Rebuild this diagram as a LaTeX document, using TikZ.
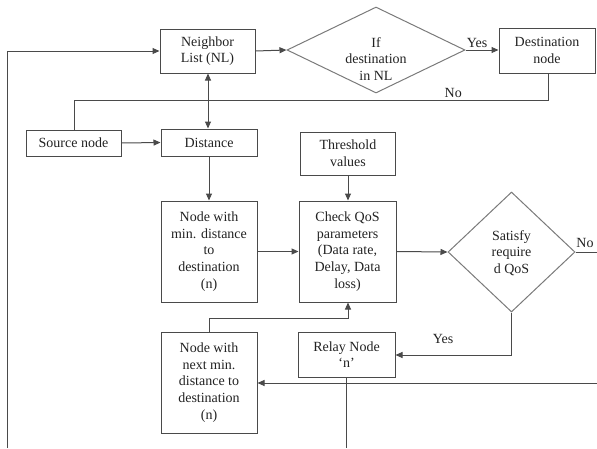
\documentclass[tikz,border=0pt]{standalone}
\usepackage{fontspec}
\setmainfont{Liberation Serif}
\usetikzlibrary{shapes.geometric,arrows.meta}
\definecolor{ln}{HTML}{4A4A4A}
\definecolor{dl}{HTML}{7A7A7A}
\definecolor{tx}{HTML}{222222}
\begin{document}
\begin{tikzpicture}[x=1pt,y=-1pt,
  every node/.style={font=\rmfamily\fontsize{14}{16.7}\selectfont,text=tx},
  box/.style={draw=ln,line width=1pt,rectangle,inner sep=0pt,align=center},
  dia/.style={draw=dl,line width=1pt,diamond,inner sep=0pt},
  lbl/.style={align=center,inner sep=0pt},
  conn/.style={draw=ln,line width=1pt},
  arr/.style={conn,-{Triangle[length=7pt,width=6pt]}}]
\useasboundingbox (0,0) rectangle (597,448);
% boxes
\node[box,minimum width=95pt,minimum height=44pt] (nl) at (207.5,51) {Neighbor\\List (NL)};
\node[box,minimum width=96pt,minimum height=45pt] (dest) at (547,50.5) {Destination\\node};
\node[dia,minimum width=178pt,minimum height=86pt] (ifd) at (376,50) {};
\node[lbl] (ifdt) at (376,59) {If\\destination\\in NL};
\node[box,minimum width=95pt,minimum height=26pt] (src) at (73.5,143) {Source node};
\node[box,minimum width=96pt,minimum height=27pt] (dist) at (209,142.5) {Distance};
\node[box,minimum width=96pt,minimum height=101pt] (nmin) at (209,251.5) {Node with\\min. distance\\to\\destination\\(n)};
\node[box,minimum width=95pt,minimum height=43pt] (thr) at (348,153.5) {Threshold\\values};
\node[box,minimum width=97pt,minimum height=101pt] (chk) at (347.5,251.5) {Check QoS\\parameters\\(Data rate,\\Delay, Data\\loss)};
\node[dia,minimum width=127pt,minimum height=120pt] (sat) at (511.5,252) {};
\node[lbl] (satt) at (511.5,253) {Satisfy\\require\\d QoS};
\node[box,minimum width=97pt,minimum height=45pt] (relay) at (346.5,354.5) {Relay Node\\‘n’};
\node[box,minimum width=96pt,minimum height=101pt] (nnext) at (209,382.5) {Node with\\next min.\\distance to\\destination\\(n)};
% coordinates
\coordinate (lb) at (7,448);
\coordinate (lt) at (7,51);
\coordinate (jn) at (208,100);
\coordinate (nr) at (74,100);
\coordinate (dr) at (548,100);
\coordinate (satno) at (597,252);
\coordinate (saty) at (511.5,355);
\coordinate (rb) at (346.5,448);
\coordinate (rr) at (597,383);
\coordinate (up1) at (209,318);
\coordinate (up2) at (348,318);
% connectors
\draw[arr] (lb) -- (lt) -- (nl.west);
\draw[arr] (nl.east) -- (ifd.west);
\draw[arr] (ifd.east) -- node[lbl,above=2pt,pos=0.35] (yes1) {Yes} (ifd.east -| dest.west);
\draw[conn] (dest.south -| dr) -- (dr) -- node[lbl,above=2pt,pos=0.2] (no1) {No} (nr) -- (src.north -| nr);
\draw[arr] (jn) -- (nl.south -| jn);
\draw[arr] (jn) -- (dist.north -| jn);
\draw[arr] (src.east) -- (dist.west);
\draw[arr] (dist.south) -- (nmin.north);
\draw[arr] (nmin.east) -- (chk.west);
\draw[arr] (thr.south) -- (chk.north -| thr.south);
\draw[arr] (chk.east) -- (sat.west);
\draw[conn] (sat.east) -- (satno);
\node[lbl] (no2) at (585,243) {No};
\draw[arr] (sat.south) -- (saty) -- node[lbl,above=11pt,pos=0.59] (yes2) {Yes} (relay.east |- saty);
\draw[conn] (relay.south) -- (rb);
\draw[arr] (rr) -- (nnext.east |- rr);
\draw[arr] (nnext.north) -- (up1) -- (up2) -- (chk.south -| up2);
\end{tikzpicture}
\end{document}
